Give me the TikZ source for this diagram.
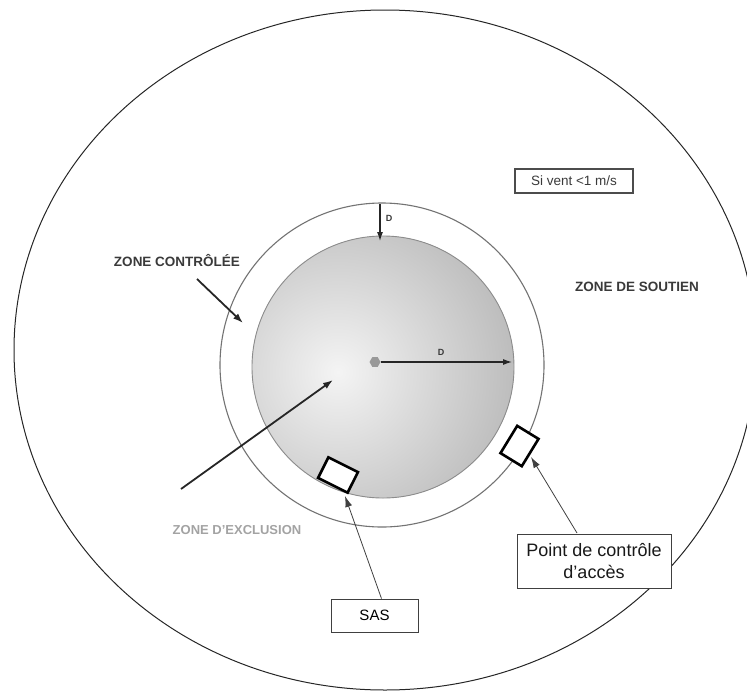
\documentclass[tikz,border=0pt]{standalone}
\usepackage{fontspec}
\setmainfont{Liberation Sans}
\usetikzlibrary{arrows.meta,shapes.geometric}
\definecolor{discgray}{HTML}{A9A9A9}
\definecolor{disclight}{HTML}{F4F4F4}
\definecolor{labelgray}{HTML}{3A3A3A}
\definecolor{exclgray}{HTML}{A3A3A3}
\tikzset{
  zonelabel/.style={font=\bfseries\fontsize{13.5}{15}\selectfont, text=labelgray, inner sep=0pt},
  calloutbox/.style={draw=black!75, line width=0.8pt, fill=white, align=center},
  sasbox/.style={draw=black, line width=2.6pt, fill=white, inner sep=0pt},
  thinptr/.style={draw=black!75, line width=0.8pt, -{Latex[length=11pt,width=7pt]}},
  thickptr/.style={draw=black!85, line width=1.8pt, -{Latex[length=10pt,width=7pt]}},
  dimarrow/.style={draw=black!85, line width=1.1pt, -{Latex[length=9pt,width=6pt]}},
  dlabel/.style={font=\bfseries\fontsize{9}{10}\selectfont, text=labelgray, inner sep=0pt}
}
\begin{document}
\begin{tikzpicture}[x=1pt,y=-1pt]
\useasboundingbox (0,0) rectangle (747,691);
\clip (0,0) rectangle (747,691);
% outer ellipse (zone de soutien)
\draw[black!85, line width=1pt] (385,350) ellipse [x radius=371, y radius=340];
% controlled zone ring
\draw[black!55, line width=1.1pt, fill=white] (382,365) circle [radius=162];
% exclusion disc with off-centre light spot
\begin{scope}
  \clip (383,367) circle [radius=131];
  \fill[discgray] (383,367) circle [radius=131];
  \shade[inner color=disclight, outer color=discgray] (338,372) circle [radius=240];
\end{scope}
\draw[black!45, line width=0.9pt] (383,367) circle [radius=131];
% centre point
\node[regular polygon, regular polygon sides=6, fill=black!40, minimum size=11pt, inner sep=0pt] (ctr) at (375,362) {};
% D arrows
\coordinate (rimR) at (512,362);
\draw[dimarrow] (ctr.east) -- (rimR);
\node[dlabel] (dR) at (441,352) {D};
\coordinate (ringTop) at (380,204);
\coordinate (discTop) at (380,241);
\draw[dimarrow] (ringTop) -- (discTop);
\node[dlabel] (dT) at (389,218) {D};
% wind box
\node[draw=black!70, line width=1.6pt, minimum width=118pt, minimum height=24pt, inner sep=0pt,
      font=\fontsize{13.5}{15}\selectfont, text=labelgray] (wind) at (574,181) {Si vent <1 m/s};
% zone labels
\node[zonelabel] (zc) at (177,261) {ZONE CONTRÔLÉE};
\node[zonelabel] (zs) at (637,287) {ZONE DE SOUTIEN};
\node[zonelabel, text=exclgray, font=\bfseries\fontsize{13}{15}\selectfont] (ze) at (237,530) {ZONE D'EXCLUSION};
% zone arrows
\coordinate (zcStart) at (197,279);
\coordinate (zcTip) at (243,323);
\draw[thickptr] (zcStart) -- (zcTip);
\coordinate (zeStart) at (181,489);
\coordinate (zeTip) at (333,380);
\draw[thickptr] (zeStart) -- (zeTip);
% SAS and access-control squares
\node[sasbox, minimum width=33pt, minimum height=23pt, rotate=-26.6] (sasq) at (338,475) {};
\node[sasbox, minimum width=25pt, minimum height=32pt, rotate=-31.5] (accq) at (519.5,446) {};
% callout boxes
\node[calloutbox, minimum width=87pt, minimum height=33pt, inner sep=0pt, font=\fontsize{15}{17}\selectfont] (sas) at (374.5,615.5) {SAS};
\node[calloutbox, minimum width=154pt, minimum height=54pt, inner sep=0pt, text=black!90, font=\fontsize{18}{22}\selectfont] (acc) at (594,561) {Point de contrôle\\d'accès};
% pointers
\coordinate (sasTip) at (345,496);
\draw[thinptr] ([xshift=7pt]sas.north) -- (sasTip);
\coordinate (accTip) at (531,457);
\draw[thinptr] (577,533) -- (accTip);
\end{tikzpicture}
\end{document}
